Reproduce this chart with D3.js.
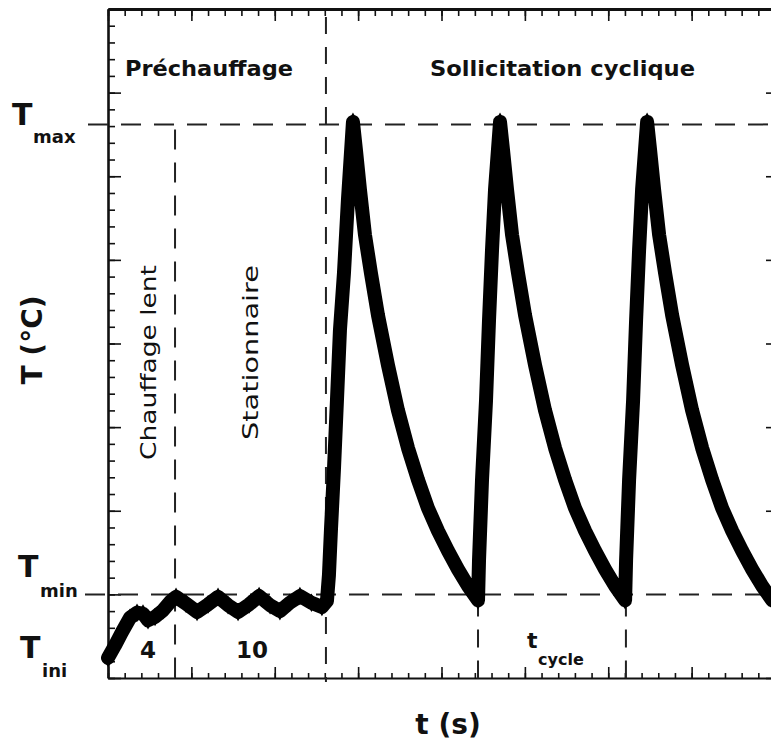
<!DOCTYPE html>
<html><head><meta charset="utf-8">
<script src="https://cdn.jsdelivr.net/npm/d3@7"></script>
<style>html,body{margin:0;padding:0;background:#fff;} svg{display:block;}</style>
</head><body>
<svg id="chart" width="771" height="751"></svg>
<script>
// ---------- DATA (axis units: t in minor-tick units, T in major-tick units) ----------
const timeValues = [
  0.00,0.42,0.84,1.32,1.74,2.10,2.40,2.82,3.30,3.72,4.08,4.68,5.34,6.00,6.60,7.20,7.80,8.46,9.06,9.72,10.31,10.90,11.51,12.20,12.83,13.13,
  13.25,13.37,13.55,13.73,13.91,14.15,14.39,14.69,
  14.87,15.11,15.41,15.77,16.19,16.79,17.39,17.99,18.59,19.19,19.79,20.39,20.99,21.59,22.19,
  22.25,22.43,22.67,22.85,23.03,23.21,23.51,
  23.69,23.93,24.23,24.59,25.01,25.61,26.21,26.81,27.41,28.01,28.61,29.21,29.81,30.41,31.01,
  31.07,31.25,31.49,31.67,31.85,32.03,32.33,
  32.51,32.75,33.05,33.41,33.83,34.43,35.03,35.63,36.23,36.83,37.43,38.03,38.63,39.23,39.83
];
const tempValues = [
  0.24,0.39,0.55,0.72,0.78,0.77,0.69,0.73,0.81,0.91,0.97,0.89,0.79,0.88,0.97,0.87,0.79,0.88,0.98,0.87,0.80,0.90,0.98,0.90,0.85,0.92,
  1.23,1.77,2.49,3.32,4.16,4.84,5.72,6.65,
  6.31,5.84,5.30,4.84,4.34,3.74,3.20,2.75,2.37,2.03,1.76,1.52,1.30,1.10,0.93,
  1.41,2.37,3.32,4.28,5.12,5.84,6.65,
  6.31,5.84,5.30,4.84,4.34,3.74,3.20,2.75,2.37,2.03,1.76,1.52,1.30,1.10,0.93,
  1.41,2.37,3.32,4.28,5.12,5.84,6.65,
  6.31,5.84,5.30,4.84,4.34,3.74,3.20,2.75,2.37,2.03,1.76,1.52,1.30,1.10,0.93
];
const levelNames = ["max","min","ini"];
const levelValues = [6.62, 1.0, 0.24];
const phaseBounds = [4.02, 13.07];
const cycleBounds = [22.19, 31.06];
const phaseLabels = ["Préchauffage","Sollicitation cyclique"];
const stageLabels = ["Chauffage lent","Stationnaire"];
const durationLabels = ["4","10"];
const axisTitles = ["t (s)","T (°C)"];

// ---------- SETUP ----------
const svg = d3.select("#chart");
const L = 108, R = 775, T = 9, B = 678;
const x = d3.scaleLinear().domain([0,40]).range([L,R]);
const y = d3.scaleLinear().domain([0,8]).range([B,T]);
const FONT = "'DejaVu Sans', Verdana, sans-serif";
const ink = "#111";

const data = timeValues.map((t,i)=>({t, v: tempValues[i]}));

// ---------- AXES ----------
const xMinor = d3.range(0,41,1), xMajor = d3.range(0,41,5);
const yMinor = d3.range(0,8.01,0.2), yMajor = d3.range(0,9,1);
function styleAxis(g, w){
  g.selectAll("path.domain").attr("stroke", ink).attr("stroke-width", w);
  g.selectAll(".tick line").attr("stroke", ink).attr("stroke-width", 1.6);
  g.selectAll(".tick text").remove();
}
// bottom (ticks up)
svg.append("g").attr("transform",`translate(0,${B})`)
  .call(d3.axisTop(x).tickValues(xMinor).tickSize(5).tickSizeOuter(0).tickFormat(""))
  .call(g=>styleAxis(g,2.2));
svg.append("g").attr("transform",`translate(0,${B})`)
  .call(d3.axisTop(x).tickValues(xMajor).tickSize(11).tickSizeOuter(0).tickFormat(""))
  .call(g=>{styleAxis(g,2.2); g.select("path.domain").remove();});
// top (ticks down)
svg.append("g").attr("transform",`translate(0,${T})`)
  .call(d3.axisBottom(x).tickValues(xMinor).tickSize(7).tickSizeOuter(0).tickFormat(""))
  .call(g=>styleAxis(g,3.2));
svg.append("g").attr("transform",`translate(0,${T})`)
  .call(d3.axisBottom(x).tickValues(xMajor).tickSize(12).tickSizeOuter(0).tickFormat(""))
  .call(g=>{styleAxis(g,3); g.select("path.domain").remove();});
// left (ticks right)
svg.append("g").attr("transform",`translate(${L},0)`)
  .call(d3.axisRight(y).tickValues(yMinor).tickSize(7).tickSizeOuter(0).tickFormat(""))
  .call(g=>styleAxis(g,2.6));
svg.append("g").attr("transform",`translate(${L},0)`)
  .call(d3.axisRight(y).tickValues(yMajor).tickSize(13).tickSizeOuter(0).tickFormat(""))
  .call(g=>{styleAxis(g,2.6); g.select("path.domain").remove();});
// right (ticks left)
svg.append("g").attr("transform",`translate(${R},0)`)
  .call(d3.axisLeft(y).tickValues(yMajor).tickSize(9).tickSizeOuter(0).tickFormat(""))
  .call(g=>styleAxis(g,2));

// ---------- DASHED REFERENCE LINES ----------
const dash = g => g.attr("stroke","#222").attr("stroke-width",2).attr("fill","none");
svg.append("line").attr("x1",88).attr("x2",771).attr("y1",y(levelValues[0])).attr("y2",y(levelValues[0]))
  .call(dash).attr("stroke-dasharray","20,13");
svg.append("line").attr("x1",85).attr("x2",771).attr("y1",y(levelValues[1])).attr("y2",y(levelValues[1]))
  .call(dash).attr("stroke-dasharray","20,13");
svg.append("line").attr("x1",x(phaseBounds[0])).attr("x2",x(phaseBounds[0]))
  .attr("y1",y(levelValues[0])+5).attr("y2",B).call(dash).attr("stroke-dasharray","20,13");
svg.append("line").attr("x1",x(phaseBounds[1])).attr("x2",x(phaseBounds[1]))
  .attr("y1",T+8).attr("y2",B+4).call(dash).attr("stroke-dasharray","17,13");
cycleBounds.forEach(c=>{
  svg.append("line").attr("x1",x(c)).attr("x2",x(c))
    .attr("y1",y(levelValues[1])+4).attr("y2",B+4).call(dash).attr("stroke-dasharray","18,13");
});

// ---------- DATA SERIES ----------
const line = d3.line().x(d=>x(d.t)).y(d=>y(d.v));
svg.append("path").datum(data).attr("d",line)
  .attr("fill","none").attr("stroke","#000").attr("stroke-width",14)
  .attr("stroke-linejoin","round").attr("stroke-linecap","round");
svg.append("g").selectAll("path").data(data).join("path")
  .attr("transform",d=>`translate(${x(d.t)},${y(d.v)})`)
  .attr("d",d3.symbol().type(d3.symbolDiamond).size(100))
  .attr("fill","#000");

// ---------- TEXT ----------
function txt(s, xx, yy, size, weight, opts={}){
  const t = svg.append("text").attr("x",xx).attr("y",yy).text(s)
    .attr("font-family",FONT).attr("font-size",size).attr("font-weight",weight).attr("fill",ink);
  if(opts.len) t.attr("textLength",opts.len).attr("lengthAdjust","spacingAndGlyphs");
  if(opts.anchor) t.attr("text-anchor",opts.anchor);
  if(opts.rot) t.attr("transform",`rotate(-90,${xx},${yy})`);
  return t;
}
txt("T", 12, y(levelValues[0])+1, 30, "bold");
txt(levelNames[0], 33, y(levelValues[0])+19, 18, "bold");
txt("T", 18, y(levelValues[1])-17, 30, "bold");
txt(levelNames[1], 40, y(levelValues[1])+3, 18, "bold");
txt("T", 20, 658, 30, "bold");
txt(levelNames[2], 42, 677, 18, "bold");

txt(phaseLabels[0], 125, 76, 21, "bold", {len:168});
txt(phaseLabels[1], 430, 76, 21, "bold", {len:265});
txt(stageLabels[0], 156, 460, 22, "normal", {rot:true, len:195});
txt(stageLabels[1], 258, 440, 22, "normal", {rot:true, len:175});
txt(durationLabels[0], 148, 658, 23, "bold", {anchor:"middle"});
txt(durationLabels[1], 252, 658, 23, "bold", {anchor:"middle"});
txt("t", 527, 648, 22, "bold");
txt("cycle", 538, 665, 16, "bold");
txt(axisTitles[0], 448, 734, 28, "bold", {anchor:"middle"});
txt(axisTitles[1], 42, 340, 28, "bold", {anchor:"middle", rot:true});
</script>
</body></html>
